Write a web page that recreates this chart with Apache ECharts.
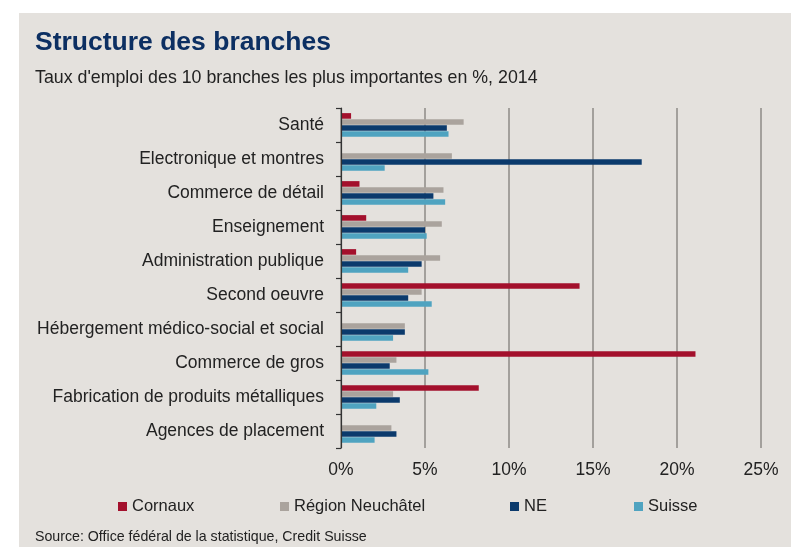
<!DOCTYPE html>
<html>
<head>
<meta charset="utf-8">
<script src="https://cdn.jsdelivr.net/npm/echarts@6/dist/echarts.min.js"></script>
<style>
  html, body { margin: 0; padding: 0; background: #fff; }
  #main { width: 800px; height: 560px; }
</style>
</head>
<body>
<div id="main"></div>
<script>
var FONT = '"Liberation Sans", Arial, Helvetica, sans-serif';

var categories = [
  'Santé', 'Electronique et montres', 'Commerce de détail', 'Enseignement',
  'Administration publique', 'Second oeuvre', 'Hébergement médico-social et social',
  'Commerce de gros', 'Fabrication de produits métalliques', 'Agences de placement'
];
var seriesNames = ['Cornaux', 'Région Neuchâtel', 'NE', 'Suisse'];
// taux d'emploi en %, null = pas de barre
var cornaux = [0.6, null, 1.1, 1.5, 0.9, 14.2, null, 21.1, 8.2, null];
var region = [7.3, 6.6, 6.1, 6.0, 5.9, 4.8, 3.8, 3.3, 3.1, 3.0];
var ne = [6.3, 17.9, 5.5, 5.0, 4.8, 4.0, 3.8, 2.9, 3.5, 3.3];
var suisse = [6.4, 2.6, 6.2, 5.1, 4.0, 5.4, 3.1, 5.2, 2.1, 2.0];
var xTicks = [0, 5, 10, 15, 20, 25];

var colors = ['#a3102c', '#aaa39d', '#0b3a6c', '#4fa3c0'];
var legendLeft = [113, 275, 505, 629];

var myChart = echarts.init(document.getElementById('main'));

var seriesData = [cornaux, region, ne, suisse];
var seriesList = [];
var legends = [];
for (var i = 0; i < seriesNames.length; i++) {
  seriesList.push({
    name: seriesNames[i],
    type: 'bar',
    data: seriesData[i],
    barWidth: 5.6,
    barGap: '8%',
    itemStyle: { color: colors[i] },
    emphasis: { disabled: true }
  });
  legends.push({
    data: [seriesNames[i]],
    left: legendLeft[i],
    top: 493,
    icon: 'rect',
    itemWidth: 9,
    itemHeight: 9,
    itemGap: 5,
    textStyle: { fontFamily: FONT, fontSize: 16.5, color: '#222' }
  });
}

var option = {
  animation: false,
  backgroundColor: '#fff',
  color: colors,
  graphic: [{
    type: 'rect',
    shape: { x: 19, y: 13, width: 772, height: 534 },
    style: { fill: '#e4e1dd' },
    z: -10
  }],
  title: [{
    text: 'Structure des branches',
    left: 30,
    top: 24,
    textStyle: { fontFamily: FONT, fontSize: 26.5, fontWeight: 'bold', color: '#0c2f62' }
  }, {
    text: "Taux d'emploi des 10 branches les plus importantes en %, 2014",
    left: 30,
    top: 64,
    textStyle: { fontFamily: FONT, fontSize: 17.8, fontWeight: 'normal', color: '#222' }
  }, {
    text: 'Source: Office fédéral de la statistique, Credit Suisse',
    left: 30,
    top: 525,
    textStyle: { fontFamily: FONT, fontSize: 14.2, fontWeight: 'normal', color: '#222' }
  }],
  legend: legends,
  grid: { left: 341, right: 39, top: 108, bottom: 112, containLabel: false },
  xAxis: {
    type: 'value',
    min: xTicks[0],
    max: xTicks[xTicks.length - 1],
    interval: 5,
    axisLine: { show: false },
    axisTick: { show: false },
    axisLabel: {
      margin: 13,
      fontFamily: FONT,
      fontSize: 17.5,
      color: '#222',
      formatter: '{value}%'
    },
    splitLine: {
      show: true,
      lineStyle: { color: '#8e8a86', width: 1.5 }
    }
  },
  yAxis: {
    type: 'category',
    data: categories,
    inverse: true,
    axisLine: { show: true, lineStyle: { color: '#333', width: 1.2 } },
    axisTick: { show: true, length: 5, lineStyle: { color: '#333', width: 1.2 } },
    axisLabel: {
      margin: 17,
      fontFamily: FONT,
      fontSize: 17.5,
      color: '#222'
    },
    z: 5
  },
  series: seriesList
};

myChart.setOption(option);
</script>
</body>
</html>
